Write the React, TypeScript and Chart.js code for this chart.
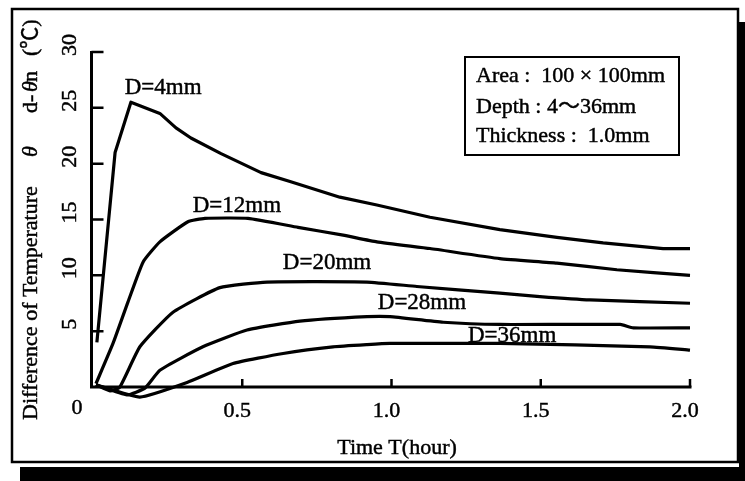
import { useEffect, useRef } from "react";
import { Chart, registerables } from "chart.js";

Chart.register(...registerables);

// ---- data ----
const seriesNames = ["D=4mm", "D=12mm", "D=20mm", "D=28mm", "D=36mm"];

const hoursD4 = [0.013, 0.074, 0.127, 0.224, 0.278, 0.328, 0.429, 0.563, 0.66, 0.827, 0.951, 1.129, 1.363, 1.554, 1.709, 1.91, 2.0];
const tempD4 = [4.0, 21.0, 25.5, 24.5, 23.2, 22.3, 20.9, 19.2, 18.4, 17.0, 16.3, 15.2, 14.1, 13.4, 12.9, 12.4, 12.4];

const hoursD12 = [0.01, 0.067, 0.117, 0.168, 0.224, 0.318, 0.375, 0.519, 0.687, 0.838, 0.951, 1.129, 1.363, 1.554, 1.755, 2.0];
const tempD12 = [0.3, 3.9, 7.6, 11.2, 13.0, 14.8, 15.1, 15.1, 14.3, 13.6, 13.0, 12.4, 11.5, 11.1, 10.5, 10.0];

const hoursD20 = [0.01, 0.057, 0.09, 0.157, 0.268, 0.425, 0.583, 0.918, 1.085, 1.363, 1.497, 1.665, 2.0];
const tempD20 = [0.2, -0.35, 0.0, 3.6, 6.7, 8.9, 9.4, 9.4, 9.0, 8.4, 8.1, 7.8, 7.5];

const hoursD28 = [0.01, 0.114, 0.174, 0.224, 0.368, 0.516, 0.693, 0.918, 0.995, 1.173, 1.363, 1.766, 1.81, 2.0];
const tempD28 = [0.2, -0.7, -0.1, 1.5, 3.6, 5.1, 5.9, 6.3, 6.3, 5.8, 5.6, 5.6, 5.3, 5.3];

const hoursD36 = [0.01, 0.157, 0.315, 0.469, 0.637, 0.804, 0.918, 0.995, 1.363, 1.866, 2.0];
const tempD36 = [0.2, -0.9, 0.4, 2.1, 3.0, 3.6, 3.8, 3.9, 3.9, 3.6, 3.3];

const seriesTension = [0, 0.15, 0.15, 0.15, 0.15];

const xTickValues = [0, 0.5, 1.0, 1.5, 2.0];
const xTickLabels = ["0", "0.5", "1.0", "1.5", "2.0"];
const yTickValues = [5, 10, 15, 20, 25, 30];
const yTickLabels = ["5", "10", "15", "20", "25", "30"];

const xTitle = "Time T(hour)";
const legendLines = ["Area :  100 × 100mm", "Depth : 4～36mm", "Thickness :  1.0mm"];

// curve label anchors in data units (hour, °C)
const labelHours = [0.235, 0.482, 0.784, 1.102, 1.404];
const labelTemps = [26.8, 16.2, 11.1, 7.5, 4.6];

const SERIF = '"Liberation Serif", "Times New Roman", "Noto Sans CJK JP", serif';

function boldText(ctx: any, t: string, x: number, y: number) {
  ctx.fillText(t, x, y);
  ctx.lineWidth = 0.45;
  ctx.strokeText(t, x, y);
}

const decorPlugin = {
  id: "decor",
  beforeDraw(chart: any) {
    const { ctx, width, height } = chart;
    ctx.save();
    ctx.fillStyle = "#fff";
    ctx.fillRect(0, 0, width, height);
    // shadow
    ctx.fillStyle = "#000";
    ctx.fillRect(20, 467, 725, 14);
    ctx.fillRect(739, 22, 6, 459);
    // frame
    ctx.strokeStyle = "#000";
    ctx.lineWidth = 2.5;
    ctx.strokeRect(12, 9, 726, 453);
    ctx.restore();
  },
  afterDraw(chart: any) {
    const { ctx } = chart;
    const xs = chart.scales.x;
    const ys = chart.scales.y;
    const x0 = xs.getPixelForValue(0);
    const y0 = ys.getPixelForValue(0);
    const axisX = x0 - 1.5;
    ctx.save();
    ctx.strokeStyle = "#000";
    ctx.fillStyle = "#000";
    ctx.lineWidth = 3;
    ctx.lineCap = "butt";
    // axes
    ctx.beginPath();
    ctx.moveTo(axisX, ys.getPixelForValue(30) - 1);
    ctx.lineTo(axisX, y0 + 1.5);
    ctx.moveTo(axisX - 1.5, y0);
    ctx.lineTo(xs.getPixelForValue(2) + 1.5, y0);
    ctx.stroke();
    // ticks
    ctx.lineWidth = 2.5;
    ctx.beginPath();
    yTickValues.forEach((v) => {
      const py = ys.getPixelForValue(v);
      ctx.moveTo(axisX, py);
      ctx.lineTo(axisX + 12, py);
    });
    xTickValues.forEach((v) => {
      if (v === 0) return;
      const px = xs.getPixelForValue(v);
      ctx.moveTo(px, y0);
      ctx.lineTo(px, y0 - 8);
    });
    ctx.stroke();

    ctx.font = `22px ${SERIF}`;
    ctx.textBaseline = "middle";
    ctx.textAlign = "center";
    // x tick labels
    xTickValues.forEach((v, i) => {
      const px = xs.getPixelForValue(v);
      const dx = v === 0 ? -16 : -5;
      boldText(ctx, xTickLabels[i], px + dx, v === 0 ? 408 : 411);
    });
    // y tick labels (rotated)
    yTickValues.forEach((v, i) => {
      const py = ys.getPixelForValue(v);
      ctx.save();
      ctx.translate(70, py - 7);
      ctx.rotate(-Math.PI / 2);
      boldText(ctx, yTickLabels[i], 0, 0);
      ctx.restore();
    });
    // x title
    boldText(ctx, xTitle, 397, 448);

    // y title (rotated, mixed italic)
    ctx.save();
    ctx.translate(31, 420);
    ctx.rotate(-Math.PI / 2);
    ctx.textAlign = "left";
    const segs: [string, number, boolean][] = [
      ["Difference of Temperature", 0, false],
      ["θ", 263, true],
      ["d-", 307, false],
      ["θ", 328, true],
      ["n", 338, false],
      ["(℃)", 364, false],
    ];
    segs.forEach(([t, off, it]) => {
      ctx.font = `${it ? "italic " : ""}22px ${SERIF}`;
      boldText(ctx, t, off, 0);
    });
    ctx.restore();

    // curve labels
    ctx.font = `23px ${SERIF}`;
    ctx.textAlign = "center";
    seriesNames.forEach((n, i) => {
      boldText(ctx, n, xs.getPixelForValue(labelHours[i]), ys.getPixelForValue(labelTemps[i]));
    });

    // info box
    ctx.font = `22px ${SERIF}`;
    ctx.lineWidth = 2;
    ctx.strokeRect(465, 57, 214, 98);
    ctx.textAlign = "left";
    ctx.textBaseline = "alphabetic";
    const baselines = [82, 113, 142];
    legendLines.forEach((t, i) => boldText(ctx, t, 476, baselines[i]));
    ctx.restore();
  },
};

function pts(h: number[], t: number[]) {
  return h.map((x, i) => ({ x, y: t[i] }));
}

export default function App() {
  const ref = useRef<HTMLCanvasElement | null>(null);
  useEffect(() => {
    if (!ref.current) return;
    const series = [
      pts(hoursD4, tempD4),
      pts(hoursD12, tempD12),
      pts(hoursD20, tempD20),
      pts(hoursD28, tempD28),
      pts(hoursD36, tempD36),
    ];
    const chart = new Chart(ref.current, {
      type: "line",
      data: {
        datasets: series.map((d, i) => ({
          label: seriesNames[i],
          data: d,
          borderColor: "#000",
          borderWidth: 3.2,
          pointRadius: 0,
          tension: seriesTension[i],
          fill: false,
          clip: false as any,
          borderJoinStyle: "round" as const,
        })),
      },
      options: {
        responsive: false,
        animation: false,
        maintainAspectRatio: false,
        layout: { padding: { left: 93, right: 55, top: 52, bottom: 94 } },
        plugins: { legend: { display: false }, tooltip: { enabled: false } },
        scales: {
          x: { type: "linear", min: 0, max: 2, display: false },
          y: { type: "linear", min: 0, max: 30, display: false },
        },
      },
      plugins: [decorPlugin],
    });
    return () => chart.destroy();
  }, []);
  return (
    <div style={{ position: "absolute", left: 0, top: 0, width: 745, height: 481 }}>
      <canvas ref={ref} width={745} height={481} style={{ display: "block" }} />
    </div>
  );
}
